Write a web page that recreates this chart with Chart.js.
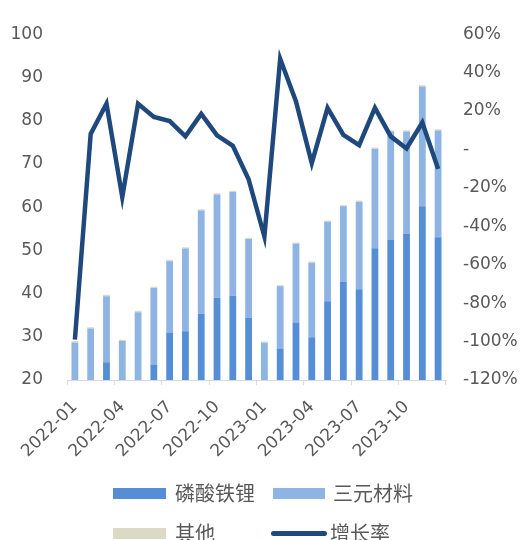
<!DOCTYPE html>
<html><head><meta charset="utf-8">
<script src="https://cdn.jsdelivr.net/npm/chart.js@4"></script>
<style>
html,body{margin:0;padding:0;background:#fff;}
#wrap{position:relative;width:524px;height:540px;overflow:hidden;}
#c{position:absolute;left:0;top:0;}
.lg{position:absolute;font-family:"Noto Sans CJK SC",sans-serif;font-size:20px;color:#595959;line-height:24px;white-space:nowrap;}
.sw{position:absolute;}
</style></head>
<body><div id="wrap"><canvas id="c" width="524" height="540"></canvas>
<div class="sw" style="left:113px;top:488px;width:53px;height:11px;background:#558ED5"></div>
<div class="lg" style="left:175px;top:481px">磷酸铁锂</div>
<div class="sw" style="left:273px;top:488px;width:52px;height:11px;background:#8DB4E2"></div>
<div class="lg" style="left:333px;top:481px">三元材料</div>
<div class="sw" style="left:113px;top:528px;width:53px;height:11px;background:#DDD9C4"></div>
<div class="lg" style="left:175px;top:521px">其他</div>
<div class="sw" style="left:271px;top:531px;width:56px;height:5px;border-radius:3px;background:#1F497D"></div>
<div class="lg" style="left:330px;top:521px">增长率</div>
</div>
<script>
const categories = ["2022-01","2022-02","2022-03","2022-04","2022-05","2022-06","2022-07","2022-08","2022-09","2022-10","2022-11","2022-12",
  "2023-01","2023-02","2023-03","2023-04","2023-05","2023-06","2023-07","2023-08","2023-09","2023-10","2023-11","2023-12"];
const lfp = [13,14,24.1,15,17,23.6,31,31.3,35.3,39,39.5,34.4,17,27.3,33.3,29.9,38.2,42.7,41,50.5,52.5,53.9,60.2,53];
const totals = [29,32.2,39.7,29.3,36,41.6,47.8,50.7,59.5,63.2,63.8,52.9,28.9,42,51.8,47.4,56.9,60.5,61.5,73.8,77.8,77.8,88.2,78];
const other = [0.3,0.3,0.3,0.3,0.3,0.3,0.3,0.3,0.3,0.3,0.3,0.3,0.3,0.3,0.3,0.3,0.3,0.3,0.3,0.3,0.3,0.3,0.3,0.3];
const ternary = totals.map((t,i)=>+(t-lfp[i]-other[i]).toFixed(1));
const growth = [-99,8.1,23.8,-24.8,23.8,16.9,14.8,6.8,18.5,7.3,1.9,-15.5,-45.3,47.2,25,-7.1,21.6,7.6,2.2,21.6,6.8,0.5,14,-10.1];
const leftTicks = [20,30,40,50,60,70,80,90,100];
const rightTicks = [-120,-100,-80,-60,-40,-20,0,20,40,60];

const FONT = {family:"'DejaVu Sans', sans-serif", size:17};
const TXT = '#595959';
new Chart(document.getElementById('c'), {
  data: {
    labels: categories,
    datasets: [
      {type:'line', label:'增长率', data:growth, yAxisID:'y1', borderColor:'#1F497D', borderWidth:4.5, pointRadius:0, tension:0, order:0, borderJoinStyle:'miter'},
      {type:'bar', label:'磷酸铁锂', data:lfp, yAxisID:'y', backgroundColor:'#558ED5', stack:'s', barPercentage:0.43, categoryPercentage:1, order:1},
      {type:'bar', label:'三元材料', data:ternary, yAxisID:'y', backgroundColor:'#8DB4E2', stack:'s', barPercentage:0.43, categoryPercentage:1, order:1},
      {type:'bar', label:'其他', data:other, yAxisID:'y', backgroundColor:'#DDD9C4', stack:'s', barPercentage:0.43, categoryPercentage:1, order:1}
    ]
  },
  options: {
    responsive:false, animation:false,
    layout:{padding:{left:0,right:0,top:24,bottom:0}},
    plugins:{legend:{display:false}, tooltip:{enabled:false}},
    scales:{
      x:{stacked:true, offset:true,
        grid:{offset:true, drawOnChartArea:false, drawTicks:true, tickLength:5,
          color:(c)=> (c.index===undefined || c.index%3===0) ? '#D9D9D9' : 'rgba(0,0,0,0)'},
        border:{display:true,color:'#D9D9D9',width:1},
        ticks:{autoSkip:false, maxRotation:45, minRotation:45, color:TXT, font:FONT, padding:12,
          callback:(v,i)=> i%3===0 ? categories[i] : ''},
        afterFit:(s)=>{s.height=160;}
      },
      y:{stacked:true, position:'left', min:20, max:100,
        afterBuildTicks:(s)=>{s.ticks=leftTicks.map(v=>({value:v}));},
        grid:{display:false, drawTicks:false}, border:{display:false},
        ticks:{color:TXT, font:FONT, padding:24},
        afterFit:(s)=>{s.width=67;}
      },
      y1:{position:'right', min:-120, max:60,
        afterBuildTicks:(s)=>{s.ticks=rightTicks.map(v=>({value:v}));},
        grid:{display:false, drawTicks:false}, border:{display:false},
        ticks:{color:TXT, font:FONT, padding:17, callback:(v)=> v===0 ? '-' : v+'%'},
        afterFit:(s)=>{s.width=78;}
      }
    }
  }
});
</script></body></html>
